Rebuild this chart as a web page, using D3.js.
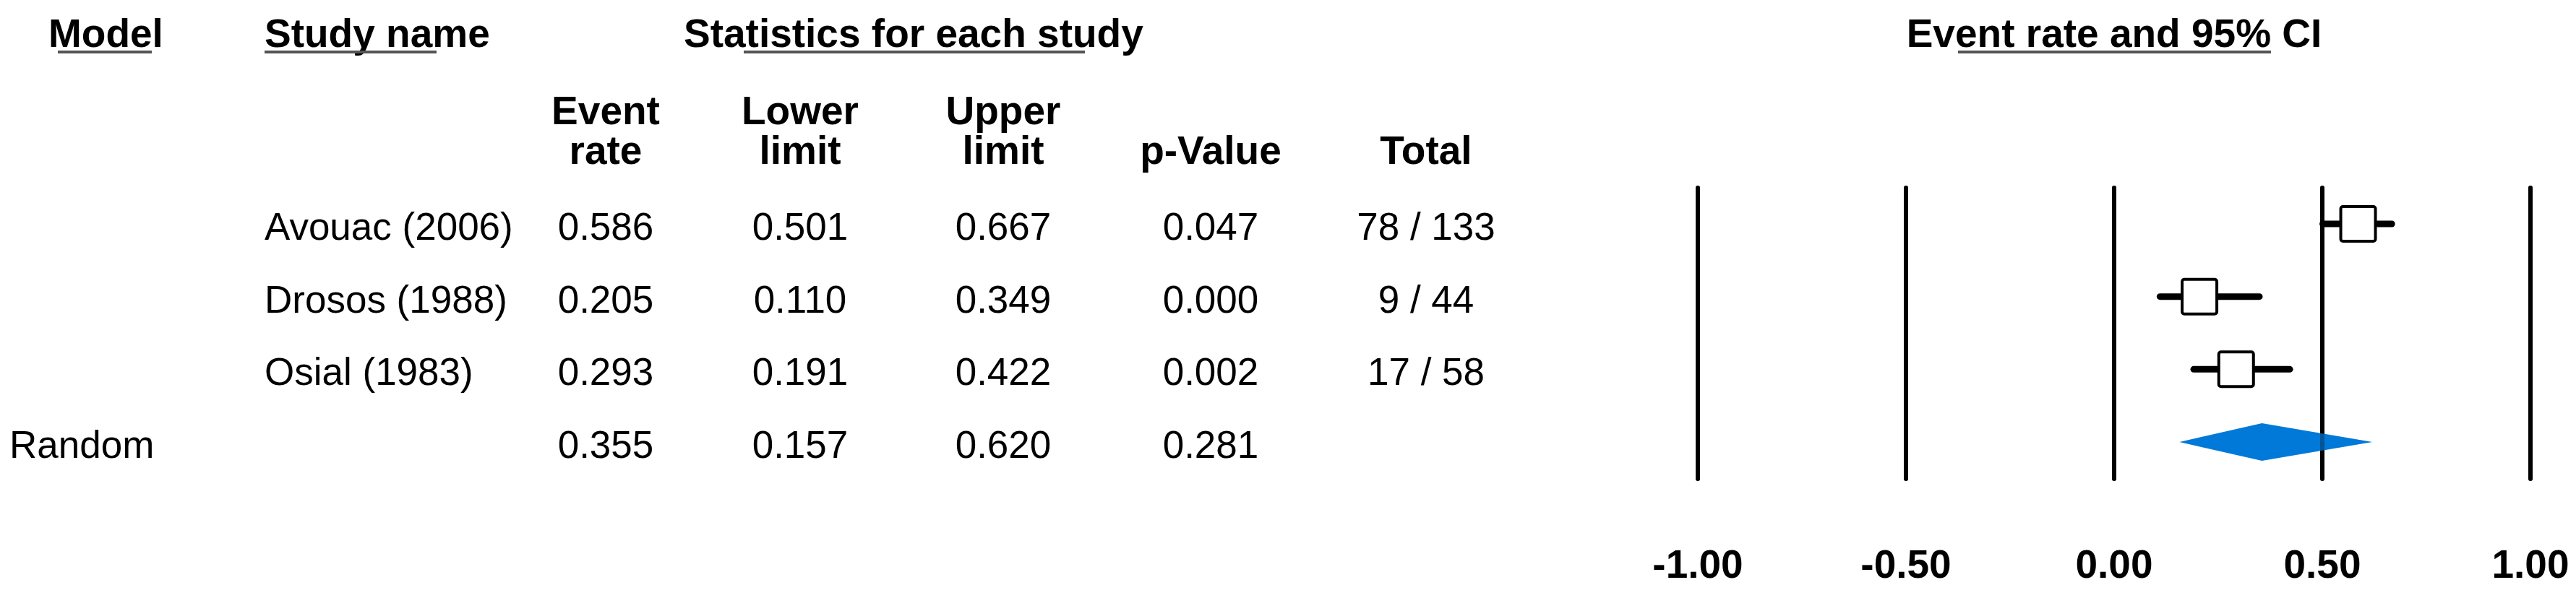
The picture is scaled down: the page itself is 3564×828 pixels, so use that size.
<!DOCTYPE html>
<html>
<head>
<meta charset="utf-8">
<script src="https://cdn.jsdelivr.net/npm/d3@7/dist/d3.min.js"></script>
<style>
  html, body { margin: 0; padding: 0; background: #fff; }
  svg { display: block; }
  text { font-family: "Liberation Sans", Arial, Helvetica, sans-serif; fill: #000; }
</style>
</head>
<body>
<div id="chart"></div>
<script>
// ---- data ----
const studyNames = ["Avouac (2006)", "Drosos (1988)", "Osial (1983)"];
const eventRates = [0.586, 0.205, 0.293];
const lowerLimits = [0.501, 0.110, 0.191];
const upperLimits = [0.667, 0.349, 0.422];
const pValues = [0.047, 0.000, 0.002];
const events = [78, 9, 17];
const totals = [133, 44, 58];

const summaryModel = "Random";
const summaryRate = 0.355;
const summaryLower = 0.157;
const summaryUpper = 0.620;
const summaryP = 0.281;

const tickValues = [-1.00, -0.50, 0.00, 0.50, 1.00];

const colHeaders = [["Event", "rate"], ["Lower", "limit"], ["Upper", "limit"], ["p-Value"], ["Total"]];

// ---- layout ----
const W = 3564, H = 828;
const svg = d3.select("#chart").append("svg").attr("width", W).attr("height", H);
svg.append("rect").attr("width", W).attr("height", H).attr("fill", "#fff");

const x = d3.scaleLinear().domain([-1, 1]).range([2349, 3501]);
const y = d3.scaleLinear().domain([0, 3]).range([310, 612]);
const colX = [838, 1107, 1388, 1675, 1973];
const locale = d3.formatLocale({decimal: ".", thousands: ",", grouping: [3], currency: ["", ""], minus: "-"});
const fmt = locale.format(".3f");
const tickFmt = locale.format(".2f");

const bodySize = 53, headSize = 55;

// top headers with offset underline
function header(txt, xLeft, ulStart, ulEnd, anchor) {
  svg.append("text").attr("x", xLeft).attr("y", 65)
    .attr("text-anchor", anchor || "start")
    .attr("font-size", headSize).attr("font-weight", "bold").text(txt);
  svg.append("line").attr("x1", ulStart).attr("x2", ulEnd).attr("y1", 72).attr("y2", 72)
    .attr("stroke", "#555").attr("stroke-width", 4);
}
header("Model", 67, 80, 210);
header("Study name", 366, 366, 604);
header("Statistics for each study", 946, 1029, 1501);
header("Event rate and 95% CI", x(0), 2709, 3142, "middle");

// column headers
colHeaders.forEach((lines, i) => {
  const t = svg.append("text").attr("text-anchor", "middle")
    .attr("font-size", headSize).attr("font-weight", "bold");
  const base = lines.length === 2 ? 172 : 227;
  lines.forEach((l, j) => {
    t.append("tspan").attr("x", colX[i]).attr("y", base + j * 55).text(l);
  });
});

// study rows
const rows = studyNames.map((n, i) => ({
  name: n, er: eventRates[i], lo: lowerLimits[i], hi: upperLimits[i],
  p: pValues[i], ev: events[i], tot: totals[i], idx: i
}));

const rowG = svg.selectAll("g.row").data(rows).enter().append("g").attr("class", "row");
rowG.append("text").attr("x", 366).attr("y", d => y(d.idx) + 22)
  .attr("font-size", bodySize).text(d => d.name);
const cols = [d => fmt(d.er), d => fmt(d.lo), d => fmt(d.hi), d => fmt(d.p), d => d.ev + " / " + d.tot];
cols.forEach((f, c) => {
  rowG.append("text").attr("x", colX[c]).attr("y", d => y(d.idx) + 22)
    .attr("text-anchor", "middle").attr("font-size", bodySize).text(f);
});

// summary row
svg.append("text").attr("x", 13).attr("y", y(3) + 22).attr("font-size", bodySize).text(summaryModel);
[summaryRate, summaryLower, summaryUpper, summaryP].forEach((v, c) => {
  svg.append("text").attr("x", colX[c]).attr("y", y(3) + 22)
    .attr("text-anchor", "middle").attr("font-size", bodySize).text(fmt(v));
});

// grid lines
const gridTop = 260, gridBottom = 663;
function drawGrid(op) {
  svg.append("g").selectAll("line").data(tickValues).enter().append("line")
    .attr("x1", d => x(d)).attr("x2", d => x(d))
    .attr("y1", gridTop).attr("y2", gridBottom)
    .attr("stroke", "#000").attr("stroke-width", 6).attr("stroke-linecap", "round")
    .attr("stroke-opacity", op);
}
drawGrid(1);

// tick labels
svg.append("g").selectAll("text").data(tickValues).enter().append("text")
  .attr("x", d => x(d)).attr("y", 800).attr("text-anchor", "middle")
  .attr("font-size", 55).attr("font-weight", "bold").text(d => tickFmt(d));

// CI whiskers
const boxSize = 48;
rowG.append("line")
  .attr("x1", d => x(d.lo)).attr("x2", d => x(d.hi))
  .attr("y1", d => y(d.idx)).attr("y2", d => y(d.idx))
  .attr("stroke", "#000").attr("stroke-width", 9).attr("stroke-linecap", "round");
rowG.append("rect")
  .attr("x", d => x(d.er) - boxSize / 2).attr("y", d => y(d.idx) - boxSize / 2)
  .attr("width", boxSize).attr("height", boxSize).attr("rx", 3)
  .attr("fill", "#fff").attr("stroke", "#000").attr("stroke-width", 4);

// summary diamond
const dy = y(3), dh = 26;
svg.append("path")
  .attr("d", `M${x(summaryLower)},${dy} L${x(summaryRate)},${dy - dh} L${x(summaryUpper)},${dy} L${x(summaryRate)},${dy + dh} Z`)
  .attr("fill", "#0079d8");
drawGrid(0.3);
</script>
</body>
</html>
